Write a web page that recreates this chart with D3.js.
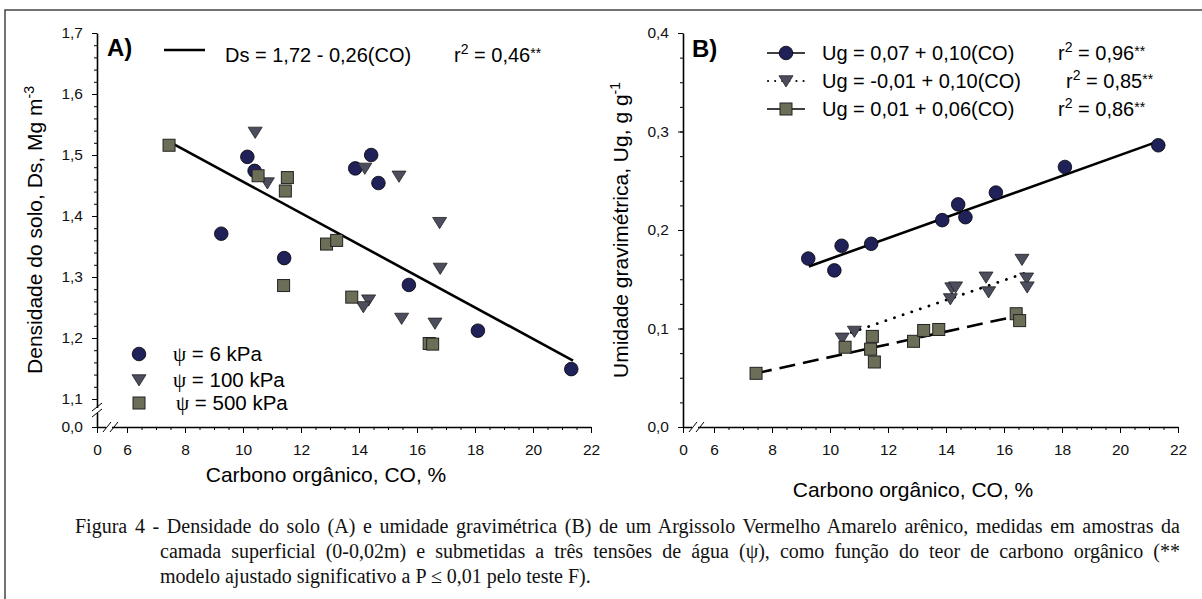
<!DOCTYPE html>
<html>
<head>
<meta charset="utf-8">
<script src="https://cdn.jsdelivr.net/npm/d3@7"></script>
<style>
  body { margin: 0; background: #fff; }
  svg { display: block; }
  .tick text { font-family: "Liberation Sans", Arial, sans-serif; font-size: 15.5px; fill: #111; }
</style>
</head>
<body>
<div id="chart"></div>
<script>
// ---- data ----
// psi = 6 kPa (circles)
const co6  = [9.25, 10.15, 10.4, 11.42, 13.87, 14.42, 14.67, 15.72, 18.1, 21.32];
const ds6  = [1.371, 1.497, 1.474, 1.331, 1.478, 1.500, 1.454, 1.287, 1.212, 1.149];
const ug6  = [0.171, 0.159, 0.184, 0.186, 0.210, 0.226, 0.213, 0.238, 0.264, 0.286];
// psi = 100 kPa (triangles)
const co100 = [10.42, 10.84, 14.2, 14.33, 14.15, 15.38, 15.47, 16.62, 16.78, 16.8];
const ds100 = [1.537, 1.454, 1.478, 1.262, 1.251, 1.465, 1.232, 1.224, 1.389, 1.314];
const ug100 = [0.090, 0.097, 0.141, 0.142, 0.130, 0.152, 0.137, 0.170, 0.151, 0.142];
// psi = 500 kPa (squares)
const co500 = [7.45, 10.52, 11.4, 11.46, 11.53, 12.88, 13.23, 13.75, 16.42, 16.54];
const ds500 = [1.516, 1.466, 1.286, 1.441, 1.463, 1.354, 1.360, 1.267, 1.191, 1.190];
const ug500 = [0.0545, 0.081, 0.079, 0.092, 0.066, 0.087, 0.098, 0.099, 0.115, 0.108];

// fitted lines (end points)
const fitDsCO = [7.45, 21.38], fitDsY = [1.522, 1.163];
const fit6CO = [9.27, 21.32],  fit6Y = [0.163, 0.290];
const fit100CO = [10.44, 16.8], fit100Y = [0.093, 0.157];
const fit500CO = [7.45, 16.5],  fit500Y = [0.0545, 0.113];

const xTicks = [0, 6, 8, 10, 12, 14, 16, 18, 20, 22];
const yTicksA = [0, 1.1, 1.2, 1.3, 1.4, 1.5, 1.6, 1.7];
const yTicksB = [0, 0.1, 0.2, 0.3, 0.4];

const legendA = ["6 kPa", "100 kPa", "500 kPa"];
const eqB = ["Ug = 0,07 + 0,10(CO)", "Ug = -0,01 + 0,10(CO)", "Ug = 0,01 + 0,06(CO)"];
const r2B = ["0,96", "0,85", "0,86"];

const caption = [
  "Figura 4 - Densidade do solo (A) e umidade gravimétrica (B) de um Argissolo Vermelho Amarelo arênico, medidas em amostras da",
  "camada superficial (0-0,02m) e submetidas a três tensões de água (ψ), como função do teor de carbono orgânico (**",
  "modelo ajustado significativo a P ≤ 0,01 pelo teste F)."
];

// ---- setup ----
const W = 1202, H = 599;
const sans = '"Liberation Sans", Arial, sans-serif';
const serif = '"Liberation Serif", "Times New Roman", serif';
const colCircle = "#1f2158", colTri = "#4c4d5d", colSq = "#6d6e57";

const svg = d3.select("#chart").append("svg")
  .attr("width", W).attr("height", H);

// outer frame
svg.append("path")
  .attr("d", `M5,${H + 2}V10H${W + 2}`)
  .attr("fill", "none").attr("stroke", "#444").attr("stroke-width", 1.5);

const fmt = d => d3.format(".1f")(d).replace(".", ",");

function zip(a, b) { return a.map((v, i) => [v, b[i]]); }

function triPath(s) {
  return `M${-s},${-s * 0.75}L${s},${-s * 0.75}L0,${s * 0.85}Z`;
}

function drawMarkers(g, pts, kind, x, y) {
  if (kind === "circle") {
    g.selectAll(null).data(pts).enter().append("circle")
      .attr("cx", d => x(d[0])).attr("cy", d => y(d[1])).attr("r", 6.8)
      .attr("fill", colCircle).attr("stroke", "#000").attr("stroke-width", 0.8);
  } else if (kind === "tri") {
    g.selectAll(null).data(pts).enter().append("path")
      .attr("d", triPath(7))
      .attr("transform", d => `translate(${x(d[0])},${y(d[1])})`)
      .attr("fill", colTri).attr("stroke", "#222").attr("stroke-width", 0.8);
  } else {
    g.selectAll(null).data(pts).enter().append("rect")
      .attr("x", d => x(d[0]) - 6).attr("y", d => y(d[1]) - 6)
      .attr("width", 12).attr("height", 12)
      .attr("fill", colSq).attr("stroke", "#222").attr("stroke-width", 1);
  }
}

function drawAxes(x, y, yTicks, yMinor, axisX, axisY, yBreak) {
  const g = svg.append("g");
  // minor ticks
  g.append("g").attr("transform", `translate(0,${axisY})`)
    .call(d3.axisBottom(x).tickValues(d3.range(6, 22.01, 0.5)).tickSize(3).tickFormat(""))
    .call(s => s.select(".domain").remove());
  g.append("g").attr("transform", `translate(${axisX},0)`)
    .call(d3.axisLeft(y).tickValues(yMinor).tickSize(3).tickFormat(""))
    .call(s => s.select(".domain").remove());
  // major ticks
  g.append("g").attr("transform", `translate(0,${axisY})`)
    .call(d3.axisBottom(x).tickValues(xTicks).tickSize(6).tickSizeOuter(0).tickPadding(11).tickFormat(d3.format("d")));
  g.append("g").attr("transform", `translate(${axisX},0)`)
    .call(d3.axisLeft(y).tickValues(yTicks).tickSize(5).tickSizeOuter(0).tickPadding(9).tickFormat(fmt));
  g.selectAll(".domain").attr("stroke-width", 1.6);
  g.selectAll(".tick line").attr("stroke-width", 1);

  // x axis break
  const bx = axisX + 9;
  g.append("rect").attr("x", bx).attr("y", axisY - 2).attr("width", 6).attr("height", 4).attr("fill", "#fff");
  [bx - 3, bx + 4].forEach(x0 => {
    g.append("line").attr("x1", x0).attr("y1", axisY + 5).attr("x2", x0 + 8).attr("y2", axisY - 5)
      .attr("stroke", "#000").attr("stroke-width", 1);
  });
  // y axis break
  if (yBreak) {
    const by = yBreak;
    g.append("rect").attr("x", axisX - 2).attr("y", by - 3).attr("width", 4).attr("height", 5).attr("fill", "#fff");
    [by - 4, by + 2].forEach(y0 => {
      g.append("line").attr("x1", axisX - 5).attr("y1", y0 + 4).attr("x2", axisX + 5).attr("y2", y0 - 4)
        .attr("stroke", "#000").attr("stroke-width", 1);
    });
  }
}

function supText(sel, base, sup, tail, stars) {
  sel.append("tspan").text(base);
  sel.append("tspan").attr("dy", -8).attr("font-size", 14).text(sup);
  if (tail !== undefined) {
    sel.append("tspan").attr("dy", 8).text(tail);
    sel.append("tspan").attr("dy", -4).attr("font-size", 14).text(stars);
  }
}

// ================= Panel A =================
const xA = d3.scaleLinear().domain([0, 6, 22]).range([97, 127, 591]);
const yA = d3.scaleLinear().domain([0, 1.1, 1.7]).range([427, 399, 33]);
drawAxes(xA, yA, yTicksA, d3.range(1.1, 1.701, 0.02), 97, 427, 411);

const line = d3.line();
const gA = svg.append("g");
gA.append("path")
  .attr("d", line(zip(fitDsCO, fitDsY).map(d => [xA(d[0]), yA(d[1])])))
  .attr("fill", "none").attr("stroke", "#000").attr("stroke-width", 2.6);
drawMarkers(gA, zip(co6, ds6), "circle", xA, yA);
drawMarkers(gA, zip(co100, ds100), "tri", xA, yA);
drawMarkers(gA, zip(co500, ds500), "square", xA, yA);

// panel A header
svg.append("text").attr("x", 107).attr("y", 56)
  .attr("font-family", sans).attr("font-size", 24).attr("font-weight", "bold").text("A)");
svg.append("line").attr("x1", 164).attr("x2", 205).attr("y1", 50).attr("y2", 50)
  .attr("stroke", "#000").attr("stroke-width", 2.6);
svg.append("text").attr("x", 225).attr("y", 62)
  .attr("font-family", sans).attr("font-size", 20).text("Ds = 1,72 - 0,26(CO)");
svg.append("text").attr("x", 454).attr("y", 62)
  .attr("font-family", sans).attr("font-size", 20)
  .call(t => supText(t, "r", "2", " = 0,46", "**"));

// panel A legend
const legY = [354, 380, 403];
const legKinds = ["circle", "tri", "square"];
legKinds.forEach((k, i) => {
  const gl = svg.append("g");
  const px = d3.scaleLinear().domain([0, 1]).range([139, 140]);
  const py = d3.scaleLinear().domain([0, 1]).range([legY[i], legY[i] + 1]);
  drawMarkers(gl, [[0, 0]], k, px, py);
  const t = svg.append("text").attr("x", i === 2 ? 176 : 173).attr("y", legY[i] + 7)
    .attr("font-family", sans).attr("font-size", 20.5);
  t.append("tspan").attr("font-family", serif).attr("font-size", 21).text("ψ");
  t.append("tspan").text(" = " + legendA[i]);
});

// axis titles A
svg.append("text")
  .attr("transform", "translate(42,230) rotate(-90)")
  .attr("text-anchor", "middle").attr("font-family", sans).attr("font-size", 21)
  .call(t => supText(t, "Densidade do solo, Ds, Mg m", "-3"));
svg.append("text").attr("x", 326).attr("y", 482)
  .attr("text-anchor", "middle").attr("font-family", sans).attr("font-size", 21)
  .text("Carbono orgânico, CO, %");

// ================= Panel B =================
const xB = d3.scaleLinear().domain([0, 6, 22]).range([683, 714, 1178]);
const yB = d3.scaleLinear().domain([0, 0.4]).range([427, 33]);
drawAxes(xB, yB, yTicksB, d3.range(0, 0.401, 0.025), 683, 427, null);

const gB = svg.append("g");
gB.append("path")
  .attr("d", line(zip(fit6CO, fit6Y).map(d => [xB(d[0]), yB(d[1])])))
  .attr("fill", "none").attr("stroke", "#000").attr("stroke-width", 2.6);
gB.append("path")
  .attr("d", line(zip(fit100CO, fit100Y).map(d => [xB(d[0]), yB(d[1])])))
  .attr("fill", "none").attr("stroke", "#000").attr("stroke-width", 2.8)
  .attr("stroke-linecap", "round").attr("stroke-dasharray", "0.1,9");
gB.append("path")
  .attr("d", line(zip(fit500CO, fit500Y).map(d => [xB(d[0]), yB(d[1])])))
  .attr("fill", "none").attr("stroke", "#000").attr("stroke-width", 2.6)
  .attr("stroke-dasharray", "16,8");
drawMarkers(gB, zip(co6, ug6), "circle", xB, yB);
drawMarkers(gB, zip(co100, ug100), "tri", xB, yB);
drawMarkers(gB, zip(co500, ug500), "square", xB, yB);

svg.append("text").attr("x", 692).attr("y", 57)
  .attr("font-family", sans).attr("font-size", 24).attr("font-weight", "bold").text("B)");

const rowY = [53, 81, 109];
const r2X = [1058, 1066, 1058];
legKinds.forEach((k, i) => {
  const gl = svg.append("g");
  if (i === 1) {
    gl.append("line").attr("x1", 768).attr("x2", 806).attr("y1", rowY[i]).attr("y2", rowY[i])
      .attr("stroke", "#000").attr("stroke-width", 2).attr("stroke-linecap", "round")
      .attr("stroke-dasharray", "0.1,7");
  } else {
    gl.append("line").attr("x1", 767).attr("x2", 805).attr("y1", rowY[i]).attr("y2", rowY[i])
      .attr("stroke", "#000").attr("stroke-width", 1.5);
  }
  const px = d3.scaleLinear().domain([0, 1]).range([786, 787]);
  const py = d3.scaleLinear().domain([0, 1]).range([rowY[i], rowY[i] + 1]);
  drawMarkers(gl, [[0, 0]], k, px, py);
  svg.append("text").attr("x", 822).attr("y", rowY[i] + 7)
    .attr("font-family", sans).attr("font-size", 20).text(eqB[i]);
  svg.append("text").attr("x", r2X[i]).attr("y", rowY[i] + 7)
    .attr("font-family", sans).attr("font-size", 20)
    .call(t => supText(t, "r", "2", " = " + r2B[i], "**"));
});

svg.append("text")
  .attr("transform", "translate(628,230) rotate(-90)")
  .attr("text-anchor", "middle").attr("font-family", sans).attr("font-size", 21)
  .call(t => supText(t, "Umidade gravimétrica, Ug, g g", "-1"));
svg.append("text").attr("x", 913).attr("y", 497)
  .attr("text-anchor", "middle").attr("font-family", sans).attr("font-size", 21)
  .text("Carbono orgânico, CO, %");

// ================= caption =================
const capX = [75, 160, 160], capY = [533, 558, 583], capEnd = 1180;
caption.forEach((txt, i) => {
  const t = svg.append("text").attr("x", capX[i]).attr("y", capY[i])
    .attr("font-family", serif).attr("font-size", 20).attr("fill", "#111")
    .text(txt);
  if (i < 2) {
    // justify by spreading the extra width over the word gaps
    const natural = t.node().getComputedTextLength();
    const spaces = txt.split(" ").length - 1;
    t.attr("word-spacing", (capEnd - capX[i] - natural) / spaces);
  }
});
</script>
</body>
</html>
